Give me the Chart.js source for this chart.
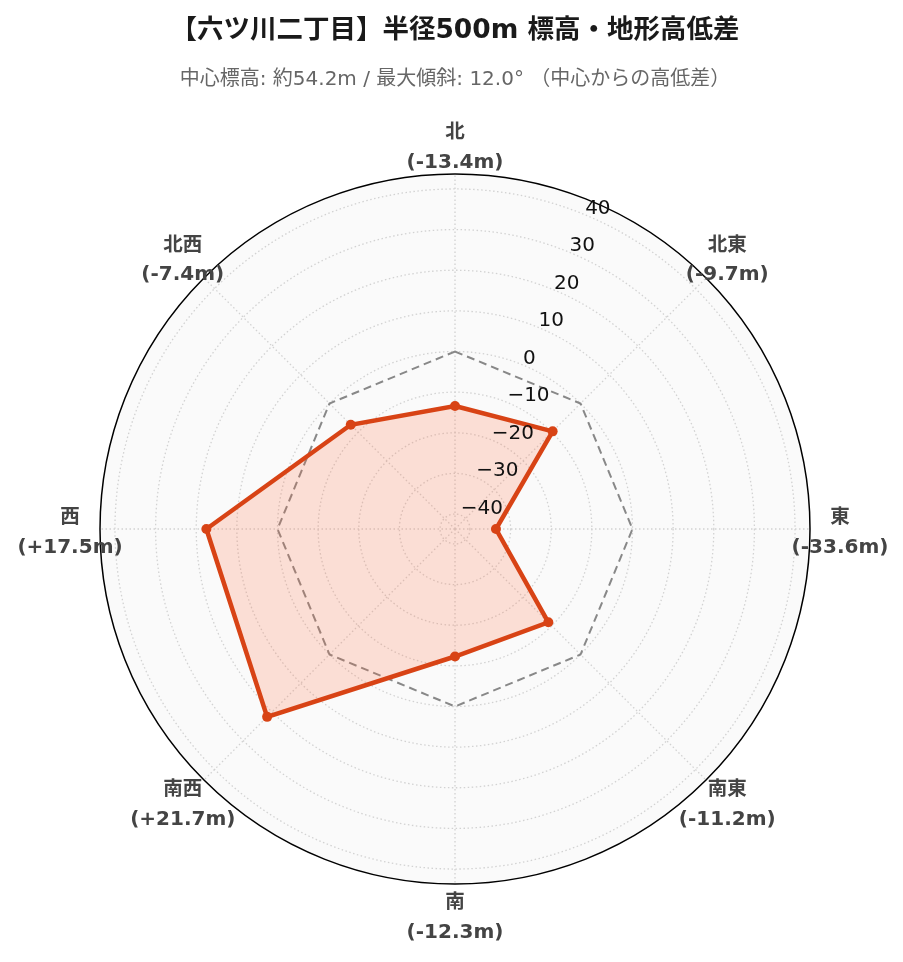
<!DOCTYPE html>
<html lang="ja">
<head>
<meta charset="utf-8">
<title>六ツ川二丁目 標高・地形高低差</title>
<script src="https://cdn.jsdelivr.net/npm/chart.js@4.4.1/dist/chart.umd.min.js"></script>
<style>
    html, body { margin: 0; padding: 0; background: #fff; }
    #wrap { width: 903px; height: 962px; position: relative; }
    #terrainChart { display: block; }
</style>
</head>
<body>
<div id="wrap"><canvas id="terrainChart" width="903" height="962"></canvas></div>
<script>
// Directions (clockwise from north) and height difference from the centre point (m)
const directions = ['北', '北東', '東', '南東', '南', '南西', '西', '北西'];
const heightDiffs = [-13.4, -9.7, -33.6, -11.2, -12.3, 21.7, 17.5, -7.4];
const baseline = [0, 0, 0, 0, 0, 0, 0, 0];

// Radial axis
const tickValues = [-40, -30, -20, -10, 0, 10, 20, 30, 40];
const rangeMin = -43.68;
const rangeMax = 43.68;

const FONT = "'DejaVu Sans', 'Noto Sans CJK JP', sans-serif";
const RED = '#d84315';

function formatDiff(v) {
    return '(' + (v > 0 ? '+' : '') + v.toFixed(1) + 'm)';
}

function formatTick(v) {
    return v < 0 ? '\u2212' + Math.abs(v) : String(v);
}

// Draw tick labels along a tilted radial axis and two-line direction labels
const polarLabels = {
    id: 'polarLabels',
    afterDraw(chart) {
        const scale = chart.scales.r;
        const ctx = chart.ctx;
        ctx.save();

        // radial axis sits halfway between 北 and 北東
        const a0 = scale.getIndexAngle(0);
        const a1 = scale.getIndexAngle(1);
        const axisAngle = a0 + (a1 - a0) / 2 - Math.PI / 2;
        ctx.font = '20px ' + FONT;
        ctx.fillStyle = '#111';
        ctx.textAlign = 'left';
        ctx.textBaseline = 'middle';
        tickValues.forEach(v => {
            const d = scale.getDistanceFromCenterForValue(v);
            const x = scale.xCenter + Math.cos(axisAngle) * d;
            const y = scale.yCenter + Math.sin(axisAngle) * d;
            ctx.fillText(formatTick(v), x, y - 6.5);
        });

        // direction labels
        ctx.textAlign = 'center';
        ctx.fillStyle = '#444';
        directions.forEach((dir, i) => {
            const pos = scale.getPointPosition(i, scale.drawingArea + 30);
            ctx.font = 'bold 19.5px ' + FONT;
            ctx.fillText(dir, pos.x, pos.y - 11);
            ctx.font = 'bold 20px ' + FONT;
            ctx.fillText(formatDiff(heightDiffs[i]), pos.x, pos.y + 18.5);
        });
        ctx.restore();
    }
};

const ctx = document.getElementById('terrainChart').getContext('2d');
const terrainChart = new Chart(ctx, {
    type: 'radar',
    data: {
        labels: directions,
        datasets: [{
            label: '高低差 (m)',
            data: heightDiffs,
            borderColor: RED,
            backgroundColor: 'rgba(255, 112, 67, 0.2)',
            borderWidth: 4.5,
            pointRadius: 5,
            pointBackgroundColor: RED,
            pointBorderColor: RED,
            pointBorderWidth: 0,
            fill: 'start',
            tension: 0
        }, {
            label: '基準 (0m)',
            data: baseline,
            borderColor: '#888',
            borderWidth: 2,
            borderDash: [8, 5],
            pointRadius: 0,
            fill: false
        }]
    },
    options: {
        responsive: false,
        animation: false,
        devicePixelRatio: 1,
        layout: {
            padding: { left: 100, right: 93, top: 0, bottom: 77 }
        },
        scales: {
            r: {
                min: rangeMin,
                max: rangeMax,
                backgroundColor: '#fafafa',
                afterBuildTicks: (scale) => {
                    scale.ticks = tickValues.concat([rangeMax]).map(v => ({ value: v }));
                },
                grid: {
                    circular: true,
                    color: (c) => c.tick && c.tick.value === rangeMax ? '#000' : '#d2d2d2',
                    lineWidth: (c) => c.tick && c.tick.value === rangeMax ? 1.5 : 1.3
                },
                border: {
                    dash: (c) => c.tick && c.tick.value === rangeMax ? [] : [1.5, 2.5]
                },
                angleLines: {
                    color: '#d2d2d2',
                    lineWidth: 1.3,
                    borderDash: [1.5, 2.5]
                },
                ticks: { display: false },
                pointLabels: { display: false }
            }
        },
        plugins: {
            legend: { display: false },
            tooltip: { enabled: false },
            title: {
                display: true,
                text: '【六ツ川二丁目】半径500m 標高・地形高低差',
                color: '#1a1a1a',
                font: { family: FONT, size: 26.5, weight: 'bold' },
                padding: { top: 15, bottom: 21 }
            },
            subtitle: {
                display: true,
                text: '中心標高: 約54.2m / 最大傾斜: 12.0° （中心からの高低差）',
                color: '#666',
                font: { family: FONT, size: 20 },
                padding: { top: 0, bottom: 83 }
            }
        }
    },
    plugins: [polarLabels]
});
</script>
</body>
</html>
